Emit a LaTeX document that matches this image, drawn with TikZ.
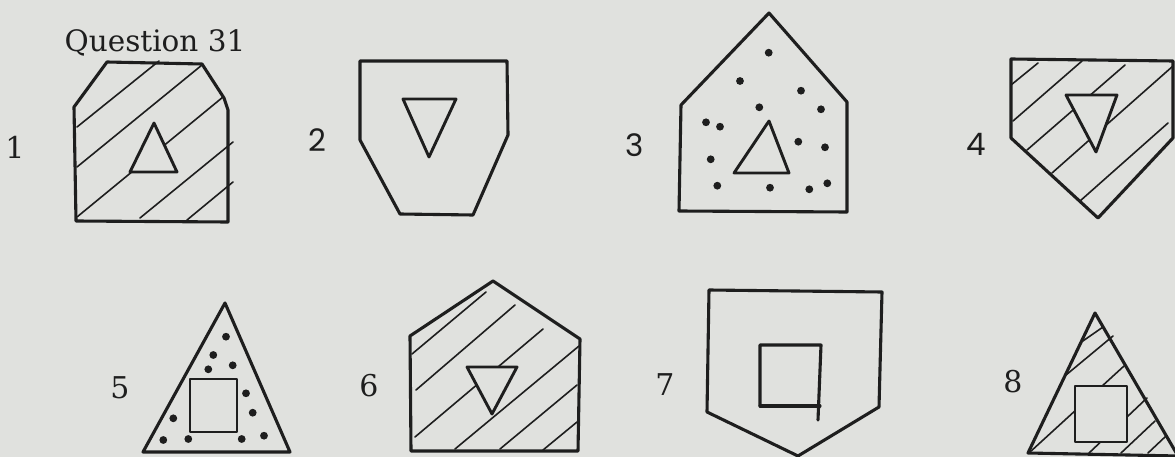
\documentclass[tikz,border=0pt]{standalone}
\usepackage{fontspec}
\newfontfamily\labserif{DejaVu Serif}
\newfontfamily\labsans{Poppins}
\definecolor{paper}{RGB}{224,225,222}
\definecolor{ink}{RGB}{30,30,30}
\tikzset{
  outline/.style={draw=ink, line width=3.1pt, line join=round, line cap=round},
  hatch/.style={draw=ink, line width=1.6pt, line cap=round},
  innershape/.style={draw=ink, fill=paper, line width=2.9pt, line join=round, line cap=round},
  speck/.style={fill=ink, draw=none},
  numlab/.style={text=ink, inner sep=0pt, font=\fontsize{30}{36}\labserif},
  sanslab/.style={text=ink, inner sep=0pt, font=\fontsize{31}{36}\labsans},
}
\begin{document}
\begin{tikzpicture}[x=1pt,y=-1pt]
\useasboundingbox (0,0) rectangle (1175,457);
\fill[paper] (0,0) rectangle (1175,457);

% title
\node[text=ink, inner sep=0pt, font=\fontsize{29.5}{34}\labserif] (title) at (155,43) {Question 31};

% ---------- Figure 1 ----------
\node[numlab] (n1) at (15,147) {1};
\draw[hatch] (77,127) -- (159,61);
\draw[hatch] (77,167) -- (202,65);
\draw[hatch] (77,217) -- (223,97);
\draw[hatch] (140,218) -- (233,142);
\draw[hatch] (187,220) -- (233,182);
\draw[innershape] (154,123) -- (177,172) -- (130,172) -- cycle;
\draw[outline] (107,62) -- (202,64) -- (224,98) -- (228,110) -- (228,222) -- (76,221) -- (74,107) -- cycle;

% ---------- Figure 2 ----------
\node[sanslab] (n2) at (317,140) {2};
\draw[outline] (360,61) -- (507,61) -- (508,135) -- (473,215) -- (400,214) -- (360,140) -- cycle;
\draw[innershape] (403,99) -- (456,99) -- (429,157) -- cycle;

% ---------- Figure 3 ----------
\node[sanslab] (n3) at (635,145) {3};
\draw[outline] (769,13) -- (847,102) -- (847,212) -- (679,211) -- (681,105) -- cycle;
\draw[innershape] (769,121) -- (789,173) -- (734,173) -- cycle;
\foreach \p in {(768.7,52.7),(740,81),(801,90.7),(759.3,107.3),(821,109.3),(706,122.3),(720,126.7),(798.3,141.7),(825,147.3),(710.7,159.3),(717.3,185.7),(770,187.7),(809.3,189.3),(827.3,183.3)}
  \fill[speck] \p circle (3.9);

% ---------- Figure 4 ----------
\node[sanslab] (n4) at (976,144) {4};
\draw[hatch] (1011,85) -- (1038,63);
\draw[hatch] (1013,121) -- (1082,61);
\draw[hatch] (1027,150) -- (1125,65);
\draw[hatch] (1052,173) -- (1173,66);
\draw[hatch] (1080,201) -- (1168,123);
\draw[innershape] (1066,95) -- (1117,95) -- (1096,152) -- cycle;
\draw[outline] (1011,59) -- (1173,61) -- (1173,138) -- (1098,218) -- (1011,138) -- cycle;

% ---------- Figure 5 ----------
\node[numlab] (n5) at (120,388) {5};
\draw[outline] (225,303) -- (290,452) -- (143,452) -- cycle;
\draw[innershape] (190,379) rectangle (237,432);
\foreach \p in {(226,336.7),(213.3,355),(208.3,369.3),(232.7,365.3),(246,393.3),(252.7,412.7),(173.3,418.3),(163.3,440),(188.3,439),(241.7,439),(264,435.7)}
  \fill[speck] \p circle (3.9);

% ---------- Figure 6 ----------
\node[numlab] (n6) at (369,386) {6};
\draw[hatch] (412,354) -- (486,292);
\draw[hatch] (416,390) -- (515,305);
\draw[hatch] (415,437) -- (543,329);
\draw[hatch] (455,449) -- (579,346);
\draw[hatch] (500,449) -- (577,385);
\draw[hatch] (543,450) -- (577,422);
\draw[innershape] (467,367) -- (517,367) -- (492,414) -- cycle;
\draw[outline] (410,336) -- (493,281) -- (580,339) -- (578,451) -- (411,451) -- cycle;

% ---------- Figure 7 ----------
\node[numlab] (n7) at (665,385) {7};
\draw[outline] (709,290) -- (882,292) -- (879,407) -- (798,456) -- (707,412) -- cycle;
\draw[outline] (760,406) -- (760,345) -- (821,345) -- (818,420);
\draw[outline] (760,406) -- (820,406);

% ---------- Figure 8 ----------
\node[numlab] (n8) at (1013,382) {8};
\draw[hatch] (1080,343) -- (1103,327);
\draw[hatch] (1066,375) -- (1113,336);
\draw[hatch] (1030,452) -- (1124,366);
\draw[hatch] (1089,453) -- (1147,398);
\draw[hatch] (1121,453) -- (1155,421);
\draw[hatch] (1148,453) -- (1166,436);
\draw[innershape] (1075,386) rectangle (1127,442);
\draw[outline] (1095,313) -- (1178,456) -- (1028,453) -- cycle;
\end{tikzpicture}
\end{document}
